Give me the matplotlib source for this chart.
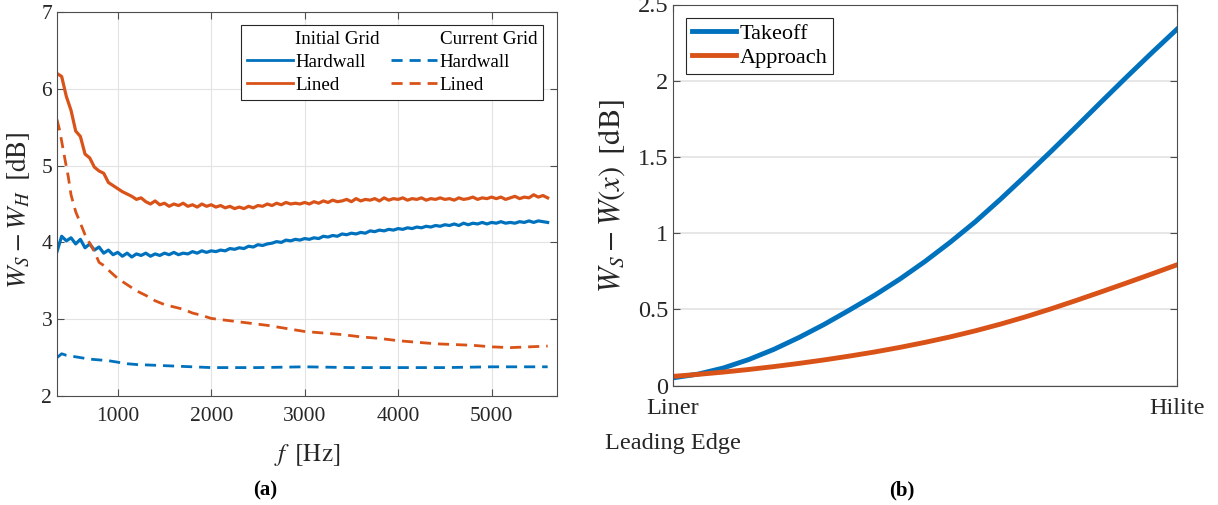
import matplotlib
matplotlib.use('Agg')
import matplotlib.pyplot as plt
from matplotlib.lines import Line2D
import numpy as np

plt.rcParams['font.family'] = ['Liberation Serif', 'DejaVu Serif']
plt.rcParams['mathtext.fontset'] = 'stix'

BLUE = '#0072BD'
ORANGE = '#D95319'

# ---- panel (a): noise difference vs frequency ----
f_solid = np.arange(350, 5601, 50)

lined_initial = [
    6.20, 6.16, 5.90, 5.72, 5.45, 5.38, 5.15, 5.10, 4.98, 4.93,
    4.90, 4.78, 4.74, 4.70, 4.66, 4.63, 4.60, 4.56, 4.58, 4.53,
    4.50, 4.54, 4.49, 4.51, 4.47, 4.50, 4.48, 4.51, 4.47, 4.49,
    4.46, 4.50, 4.47, 4.49, 4.46, 4.48, 4.45, 4.47, 4.44, 4.46,
    4.44, 4.47, 4.45, 4.48, 4.47, 4.50, 4.48, 4.51, 4.49, 4.52,
    4.50, 4.51, 4.50, 4.52, 4.50, 4.53, 4.51, 4.54, 4.52, 4.55,
    4.53, 4.54, 4.56, 4.53, 4.57, 4.54, 4.56, 4.55, 4.57, 4.54,
    4.58, 4.55, 4.57, 4.56, 4.58, 4.55, 4.57, 4.56, 4.58, 4.55,
    4.57, 4.56, 4.58, 4.56, 4.57, 4.55, 4.58, 4.56, 4.57, 4.59,
    4.56, 4.58, 4.57, 4.59, 4.57, 4.59, 4.56, 4.58, 4.60, 4.57,
    4.59, 4.58, 4.62, 4.59, 4.61, 4.58]

hard_initial = [
    3.88, 4.08, 4.02, 4.06, 3.98, 4.04, 3.93, 3.98, 3.90, 3.94,
    3.86, 3.90, 3.84, 3.87, 3.82, 3.86, 3.81, 3.85, 3.83, 3.86,
    3.82, 3.85, 3.83, 3.86, 3.84, 3.87, 3.84, 3.86, 3.85, 3.88,
    3.86, 3.89, 3.87, 3.89, 3.88, 3.90, 3.89, 3.92, 3.91, 3.93,
    3.92, 3.95, 3.94, 3.97, 3.96, 3.98, 3.99, 4.01, 4.00, 4.03,
    4.02, 4.04, 4.03, 4.05, 4.04, 4.06, 4.05, 4.08, 4.07, 4.09,
    4.08, 4.11, 4.10, 4.12, 4.11, 4.13, 4.12, 4.15, 4.14, 4.16,
    4.15, 4.17, 4.16, 4.18, 4.17, 4.19, 4.18, 4.20, 4.19, 4.21,
    4.20, 4.22, 4.21, 4.23, 4.22, 4.24, 4.22, 4.25, 4.23, 4.25,
    4.24, 4.26, 4.24, 4.26, 4.25, 4.27, 4.25, 4.26, 4.25, 4.27,
    4.26, 4.28, 4.26, 4.28, 4.27, 4.26]

f_lined_cur = [350, 380, 410, 440, 470, 500, 550, 600, 650, 700, 750, 800,
               850, 900, 1000, 1100, 1200, 1300, 1400, 1500, 1600, 1700,
               1800, 1900, 2000, 2200, 2400, 2600, 2800, 3000, 3200, 3400,
               3600, 3800, 4000, 4200, 4400, 4600, 4800, 5000, 5200, 5400, 5600]
lined_current = [5.60, 5.45, 5.25, 5.05, 4.86, 4.62, 4.40, 4.25, 4.10, 3.99,
                 3.88, 3.74, 3.70, 3.64, 3.53, 3.45, 3.37, 3.31, 3.24, 3.19,
                 3.16, 3.13, 3.08, 3.05, 3.01, 2.98, 2.95, 2.92, 2.88, 2.84,
                 2.82, 2.80, 2.77, 2.75, 2.72, 2.70, 2.68, 2.67, 2.66, 2.64,
                 2.63, 2.64, 2.65]

f_hard_cur = [350, 400, 450, 500, 600, 700, 800, 900, 1000, 1100, 1200,
              1400, 1600, 1800, 2000, 2500, 3000, 3500, 4000, 4500, 5000, 5600]
hard_current = [2.50, 2.55, 2.53, 2.52, 2.50, 2.48, 2.47, 2.46, 2.44, 2.42,
                2.41, 2.40, 2.39, 2.38, 2.37, 2.37, 2.38, 2.37, 2.37, 2.37,
                2.38, 2.38]

# ---- panel (b): axial variation ----
x_pos = np.arange(0, 1.0001, 0.05)
takeoff = [0.05, 0.075, 0.115, 0.17, 0.237, 0.315, 0.401, 0.495, 0.592,
           0.698, 0.814, 0.94, 1.075, 1.223, 1.378, 1.536, 1.698, 1.862,
           2.024, 2.183, 2.338]
approach = [0.06, 0.073, 0.088, 0.105, 0.124, 0.145, 0.168, 0.193, 0.22,
            0.25, 0.283, 0.319, 0.359, 0.403, 0.451, 0.503, 0.558, 0.615,
            0.673, 0.732, 0.792]

W, H = 1218, 505
fig = plt.figure(figsize=(W / 100, H / 100), dpi=100)

def style_axes(ax, size):
    for s in ax.spines.values():
        s.set_color('0.3')
        s.set_linewidth(0.8)
    ax.tick_params(direction='in', length=5, width=0.8, colors='0.3',
                   labelcolor='0.15', labelsize=size, top=True, right=True)

# (a)
ax1 = fig.add_axes([57 / W, (H - 396) / H, 500 / W, 384 / H])
ax1.plot(f_solid, hard_initial, color=BLUE, lw=2.3)
ax1.plot(f_solid, lined_initial, color=ORANGE, lw=2.3)
ax1.plot(f_hard_cur, hard_current, color=BLUE, lw=2, ls=(0, (4, 2.5)))
ax1.plot(f_lined_cur, lined_current, color=ORANGE, lw=2, ls=(0, (4, 2.5)))
ax1.set_xlim(350, 5700)
ax1.set_ylim(2, 7)
ax1.set_xticks([1000, 2000, 3000, 4000, 5000])
ax1.set_yticks([2, 3, 4, 5, 6, 7])
ax1.grid(True, color='#e3e3e3', lw=0.8)
ax1.set_axisbelow(True)
style_axes(ax1, 15.5)
ax1.tick_params(axis='x', pad=8)
ax1.set_xlabel(r'$f\;\;[\mathrm{Hz}]$', fontsize=18, color='0.15')
ax1.xaxis.set_label_coords(0.5, -0.12)
ax1.set_ylabel(r'$W_S - W_H\;\;[\mathrm{dB}]$', fontsize=19.5, color='0.15')
ax1.yaxis.set_label_coords(-0.05, 0.484)

blank = Line2D([], [], color='none')
handles = [blank,
           Line2D([], [], color=BLUE, lw=2),
           Line2D([], [], color=ORANGE, lw=2),
           blank,
           Line2D([], [], color=BLUE, lw=2, ls=(0, (4, 2.5))),
           Line2D([], [], color=ORANGE, lw=2, ls=(0, (4, 2.5)))]
labels = ['Initial Grid', 'Hardwall', 'Lined', 'Current Grid', 'Hardwall', 'Lined']
leg = ax1.legend(handles, labels, ncol=2, loc='upper right',
                 bbox_to_anchor=((543 - 57) / 500, (396 - 25) / 384),
                 borderaxespad=0, fontsize=13.7, handlelength=2.4,
                 handletextpad=0.15, columnspacing=0.6, labelspacing=0.3,
                 borderpad=0.3, fancybox=False, framealpha=1)
leg.get_frame().set_edgecolor('0.15')
leg.get_frame().set_linewidth(0.8)

# (b)
ax2 = fig.add_axes([673 / W, (H - 385.5) / H, 504 / W, 381 / H])
ax2.plot(x_pos, takeoff, color=BLUE, lw=3.5, label='Takeoff')
ax2.plot(x_pos, approach, color=ORANGE, lw=3.5, label='Approach')
ax2.set_xlim(0, 1)
ax2.set_ylim(0, 2.5)
ax2.set_xticks([0, 1])
ax2.set_xticklabels(['Liner', 'Hilite'])
ax2.set_yticks([0, 0.5, 1, 1.5, 2, 2.5])
ax2.set_yticklabels(['0', '0.5', '1', '1.5', '2', '2.5'])
ax2.yaxis.grid(True, color='#e3e3e3', lw=1.2)
ax2.set_axisbelow(True)
style_axes(ax2, 17.5)
ax2.tick_params(axis='x', pad=9)
ax2.set_ylabel(r'$W_S - W(x)\;\;[\mathrm{dB}]$', fontsize=22, color='0.15')
ax2.yaxis.set_label_coords(-0.091, 0.496)
leg2 = ax2.legend(loc='upper left',
                  bbox_to_anchor=((686 - 673) / 504, (385.5 - 18) / 381),
                  borderaxespad=0, fontsize=16, handlelength=2.0,
                  handletextpad=0.15, labelspacing=0.15, borderpad=0.25,
                  fancybox=False, framealpha=1)
leg2.get_frame().set_edgecolor('0.15')
leg2.get_frame().set_linewidth(0.8)

fig.text(605 / W, 1 - 443 / H, 'Leading Edge', fontsize=17.5, color='0.15',
         ha='left', va='center')

fig.text(265 / W, 1 - 490 / H, '(a)', fontsize=15, fontweight='bold', ha='center', va='center')
fig.text(902 / W, 1 - 490 / H, '(b)', fontsize=15, fontweight='bold', ha='center', va='center')

fig.savefig('out.png', dpi=100)
